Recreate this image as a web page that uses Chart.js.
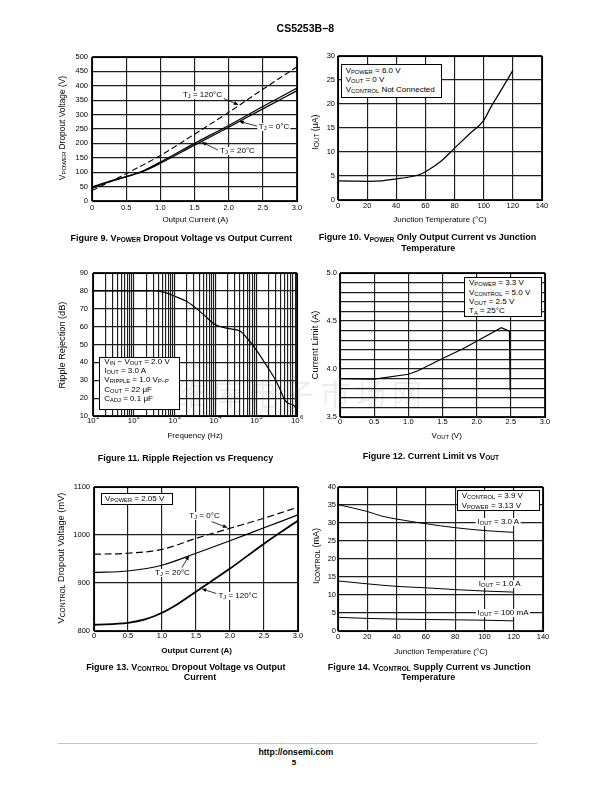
<!DOCTYPE html>
<html><head><meta charset="utf-8"><title>CS5253B-8</title>
<script src="https://cdn.jsdelivr.net/npm/chart.js@4.4.1/dist/chart.umd.min.js"></script>
<style>
html,body{margin:0;padding:0;background:#fff}
#page{position:relative;width:612px;height:792px;overflow:hidden;font-family:'Liberation Sans',Arial,Helvetica,sans-serif;color:#000}
.cw{position:absolute}
.cw canvas{display:block}
.t{position:absolute;white-space:nowrap;line-height:1;transform:translate(-50%,-50%)}
.yt{transform:translate(-50%,-50%) rotate(-90deg)}
.b{font-weight:bold}
.s{font-size:72%;position:relative;top:0.2em}
.lab{background:#fff;padding:0 1.5px}
.box{position:absolute;border:1px solid #000;background:#fff;box-sizing:border-box}
.box .ln{position:absolute;white-space:nowrap;line-height:1;transform:translateY(-50%);font-size:8px}
.wm{position:absolute;white-space:nowrap;font-family:'Noto Sans CJK SC',sans-serif;font-size:30px;letter-spacing:6px;color:rgba(0,0,0,0.07);line-height:1}
.rule{position:absolute;background:#c4c4c4}
</style></head><body><div id="page"></div>
<script>
// ================= DATA =================
// Figure 9 - VPOWER dropout voltage vs output current
const f9XTicks = ['0','0.5','1.0','1.5','2.0','2.5','3.0'];
const f9YTicks = ['0','50','100','150','200','250','300','350','400','450','500'];
const f9X120 = [0, 0.5, 1.0, 1.5, 2.0, 2.5, 3.0];
const f9Y120 = [36, 95, 158, 232, 308, 388, 466];
const f9XSolid = [0, 0.25, 0.5, 0.75, 1.0, 1.5, 2.0, 2.5, 3.0];
const f9Y0 = [48, 68, 85, 105, 135, 200, 262, 328, 392];
const f9Y20 = [44, 66, 84, 103, 131, 194, 256, 320, 383];

// Figure 10 - VPOWER only output current vs junction temperature
const f10XTicks = ['0','20','40','60','80','100','120','140'];
const f10YTicks = ['0','5','10','15','20','25','30'];
const f10X = [0, 10, 20, 30, 40, 50, 55, 60, 70, 80, 90, 100, 105, 110, 120];
const f10Y = [4.0, 3.95, 3.9, 4.0, 4.4, 4.85, 5.2, 5.9, 7.9, 10.8, 13.7, 16.6, 19.4, 21.9, 27.0];

// Figure 11 - Ripple rejection vs frequency
const f11XTickExp = ['1','2','3','4','5','6'];
const f11YTicks = ['10','20','30','40','50','60','70','80','90'];
const f11X = [10, 100, 350, 600, 1000, 2000, 5000, 10000, 20000, 40000, 60000, 100000, 200000, 300000, 400000, 500000, 600000, 800000, 900000, 1000000];
const f11Y = [80, 80, 80, 79, 77, 74, 67, 61, 59, 57.5, 53.5, 47, 36.5, 30, 24, 19, 17.2, 16.2, 15, 12];

// Figure 12 - Current limit vs VOUT
const f12XTicks = ['0','0.5','1.0','1.5','2.0','2.5','3.0'];
const f12YTicks = ['3.5','4.0','4.5','5.0'];
const f12X = [0, 0.5, 1.0, 1.15, 1.5, 1.8, 2.0, 2.36, 2.46, 2.48, 2.49];
const f12Y = [3.9, 3.895, 3.945, 3.985, 4.11, 4.21, 4.29, 4.43, 4.40, 4.39, 3.78];

// Figure 13 - VCONTROL dropout voltage vs output current
const f13XTicks = ['0','0.5','1.0','1.5','2.0','2.5','3.0'];
const f13YTicks = ['800','900','1000','1100'];
const f13X = [0, 0.5, 1.0, 1.5, 2.0, 2.5, 3.0];
const f13Y0 = [960, 962, 970, 993, 1014, 1035, 1058];
const f13Y20 = [922, 925, 937, 962, 988, 1015, 1042];
const f13X120 = [0, 0.5, 0.75, 1.0, 1.25, 1.5, 2.0, 2.5, 3.0];
const f13Y120 = [813, 817, 824, 838, 858, 882, 930, 982, 1030];

// Figure 14 - VCONTROL supply current vs junction temperature
const f14XTicks = ['0','20','40','60','80','100','120','140'];
const f14YTicks = ['0','5','10','15','20','25','30','35','40'];
const f14X3A = [0, 20, 30, 40, 60, 80, 100, 120];
const f14Y3A = [35.1, 33.2, 31.9, 31.1, 29.8, 28.7, 27.9, 27.4];
const f14X = [0, 20, 40, 60, 80, 100, 120];
const f14Y1A = [13.9, 13.1, 12.4, 12.0, 11.5, 11.1, 10.8];
const f14Y100 = [3.8, 3.5, 3.3, 3.2, 3.1, 3.0, 2.8];

// ================= RENDERING =================
const FONT = "'Liberation Sans', Arial, Helvetica, sans-serif";
const GRID = '#1e1e1e';
const page = document.getElementById('page');
Chart.defaults.font.family = FONT;

function steps(min, max, step) {
  const n = Math.round((max - min) / step), a = [];
  for (let i = 0; i <= n; i++) a.push(+(min + i * step).toFixed(6));
  return a;
}
function logGrid(e0, e1) {
  const a = [];
  for (let e = e0; e < e1; e++) for (let m = 1; m <= 9; m++) a.push(m * Math.pow(10, e));
  a.push(Math.pow(10, e1));
  return a;
}
function labelFor(spec, v) {
  if (!spec.labels) return '';
  const i = spec.labels.findIndex(l => Math.abs(parseFloat(l) - v) < 1e-6);
  return i >= 0 ? spec.labels[i] : '';
}
function series(xs, ys, style) {
  return Object.assign({
    data: xs.map((x, i) => ({x: x, y: ys[i]})),
    showLine: true, borderColor: '#000', borderWidth: 1.2, pointRadius: 0, fill: false,
    cubicInterpolationMode: 'monotone', tension: 0.4
  }, style || {});
}
const framePlugin = {
  id: 'frame',
  afterDraw(ch) {
    const a = ch.chartArea, c = ch.ctx;
    c.save(); c.strokeStyle = '#000'; c.lineWidth = 1.1;
    c.strokeRect(a.left + 0.5, a.top + 0.5, a.right - a.left, a.bottom - a.top);
    c.restore();
  }
};
function arrowPlugin(list) {
  return {
    id: 'arrows',
    afterDatasetsDraw(ch) {
      const c = ch.ctx, sx = ch.scales.x, sy = ch.scales.y;
      c.save(); c.strokeStyle = '#000'; c.fillStyle = '#000'; c.lineWidth = 0.8;
      for (const a of list) {
        const x0 = sx.getPixelForValue(a.from[0]), y0 = sy.getPixelForValue(a.from[1]);
        const x1 = sx.getPixelForValue(a.to[0]), y1 = sy.getPixelForValue(a.to[1]);
        const ang = Math.atan2(y1 - y0, x1 - x0), hl = 5, hw = 1.9;
        const bx = x1 - hl * Math.cos(ang), by = y1 - hl * Math.sin(ang);
        c.beginPath(); c.moveTo(x0, y0); c.lineTo(bx, by); c.stroke();
        c.beginPath(); c.moveTo(x1, y1);
        c.lineTo(bx + hw * Math.sin(ang), by - hw * Math.cos(ang));
        c.lineTo(bx - hw * Math.sin(ang), by + hw * Math.cos(ang));
        c.closePath(); c.fill();
      }
      c.restore();
    }
  };
}
const P = {l: 46, t: 10, r: 16, b: 26};
function makeChart(cfg) {
  const L = Math.round(cfg.plot[0]), T = Math.round(cfg.plot[1]);
  const R = Math.round(cfg.plot[2]), B = Math.round(cfg.plot[3]);
  const w = R - L + P.l + P.r, h = B - T + P.t + P.b;
  const wrap = document.createElement('div');
  wrap.className = 'cw';
  wrap.style.left = (L - P.l) + 'px'; wrap.style.top = (T - P.t) + 'px';
  wrap.style.width = w + 'px'; wrap.style.height = h + 'px';
  const cv = document.createElement('canvas');
  cv.width = w; cv.height = h; cv.style.width = w + 'px'; cv.style.height = h + 'px';
  wrap.appendChild(cv); page.appendChild(wrap);
  const ax = (spec, pos, pad) => ({
    type: spec.log ? 'logarithmic' : 'linear',
    position: pos, min: spec.min, max: spec.max,
    afterBuildTicks: s => { s.ticks = spec.grid.map(v => ({value: v})); },
    afterFit: s => { if (pos === 'bottom') s.height = P.b; else s.width = P.l; },
    grid: {color: GRID, lineWidth: 1.15, drawTicks: false},
    border: {display: false},
    ticks: {autoSkip: false, maxRotation: 0, minRotation: 0, padding: pad, color: '#000',
      font: {family: FONT, size: 7.5}, callback: v => labelFor(spec, v)}
  });
  const plugins = [framePlugin];
  if (cfg.arrows) plugins.push(arrowPlugin(cfg.arrows));
  if (cfg.extra) plugins.push(cfg.extra);
  return new Chart(cv, {
    type: 'scatter',
    data: {datasets: cfg.datasets},
    options: {
      responsive: false, animation: false, events: [],
      layout: {padding: {left: 0, top: P.t, right: P.r, bottom: 0}},
      plugins: {legend: {display: false}, tooltip: {enabled: false}},
      scales: {x: ax(cfg.x, 'bottom', cfg.xPad), y: ax(cfg.y, 'left', cfg.yPad)}
    },
    plugins: plugins
  });
}

// ---- Figure 9
makeChart({
  plot: [92.3, 57.3, 297.3, 200.7],
  x: {min: 0, max: 3, grid: steps(0, 3, 0.5), labels: f9XTicks},
  y: {min: 0, max: 500, grid: steps(0, 500, 50), labels: f9YTicks},
  xPad: 2.5, yPad: 4,
  datasets: [
    series(f9X120, f9Y120, {borderDash: [6, 3], borderWidth: 1.1}),
    series(f9XSolid, f9Y0, {borderWidth: 1.3}),
    series(f9XSolid, f9Y20, {borderWidth: 1.3})
  ],
  arrows: [
    {from: [1.917, 357], to: [2.147, 333]},
    {from: [2.415, 260], to: [2.15, 277]},
    {from: [1.844, 177], to: [1.601, 205]}
  ]
});
// ---- Figure 10
makeChart({
  plot: [337.7, 55.7, 542, 199.7],
  x: {min: 0, max: 140, grid: steps(0, 140, 20), labels: f10XTicks},
  y: {min: 0, max: 30, grid: steps(0, 30, 5), labels: f10YTicks},
  xPad: 1.5, yPad: 3,
  datasets: [series(f10X, f10Y)]
});
// ---- Figure 11
makeChart({
  plot: [93.3, 273, 297.3, 416.3],
  x: {log: true, min: 10, max: 1e6, grid: logGrid(1, 6), labels: null},
  y: {min: 10, max: 90, grid: steps(10, 90, 10), labels: f11YTicks},
  xPad: 0, yPad: 5,
  datasets: [series(f11X, f11Y)],
  extra: {
    id: 'decadeLabels',
    afterDraw(ch) {
      const c = ch.ctx, sx = ch.scales.x, yb = ch.chartArea.bottom;
      c.save(); c.fillStyle = '#000'; c.textBaseline = 'alphabetic';
      f11XTickExp.forEach(e => {
        const px = sx.getPixelForValue(Math.pow(10, +e));
        c.font = '7.8px ' + FONT; const wb = c.measureText('10').width;
        c.font = '6px ' + FONT; const we = c.measureText(e).width;
        const x0 = px - (wb + we) / 2;
        c.font = '7.8px ' + FONT; c.textAlign = 'left'; c.fillText('10', x0, yb + 7);
        c.font = '6px ' + FONT; c.fillText(e, x0 + wb + 0.3, yb + 3);
      });
      c.restore();
    }
  }
});
// ---- Figure 12
makeChart({
  plot: [340, 272.7, 545, 417],
  x: {min: 0, max: 3, grid: steps(0, 3, 0.5), labels: f12XTicks},
  y: {min: 3.5, max: 5, grid: steps(3.5, 5, 0.1), labels: f12YTicks},
  xPad: 0.5, yPad: 3,
  datasets: [series(f12X, f12Y, {cubicInterpolationMode: 'default', tension: 0})]
});
// ---- Figure 13
makeChart({
  plot: [94, 487, 298.3, 631.3],
  x: {min: 0, max: 3, grid: steps(0, 3, 0.5), labels: f13XTicks},
  y: {min: 800, max: 1100, grid: steps(800, 1100, 100), labels: f13YTicks},
  xPad: 0.5, yPad: 4,
  datasets: [
    series(f13X, f13Y0, {borderDash: [7, 3.5], borderWidth: 1.2}),
    series(f13X, f13Y20, {borderWidth: 1.2}),
    series(f13X120, f13Y120, {borderWidth: 1.8})
  ],
  arrows: [
    {from: [1.728, 1028], to: [1.968, 1015]},
    {from: [1.293, 932], to: [1.40, 958]},
    {from: [1.80, 878], to: [1.58, 888]}
  ]
});
// ---- Figure 14
makeChart({
  plot: [337.7, 487, 542.7, 631.3],
  x: {min: 0, max: 140, grid: steps(0, 140, 20), labels: f14XTicks},
  y: {min: 0, max: 40, grid: steps(0, 40, 5), labels: f14YTicks},
  xPad: 1.5, yPad: 2,
  datasets: [
    series(f14X3A, f14Y3A, {borderWidth: 1}),
    series(f14X, f14Y1A, {borderWidth: 1}),
    series(f14X, f14Y100, {borderWidth: 1})
  ]
});

// ================= TEXT =================
const S = t => '<span class="s">' + t + '</span>';
function txt(x, y, html, size, cls) {
  const d = document.createElement('div');
  d.className = 't ' + (cls || '');
  d.style.left = x + 'px'; d.style.top = y + 'px'; d.style.fontSize = size + 'px';
  d.innerHTML = html; page.appendChild(d); return d;
}
function box(l, t, w, h, first, gap, padL, lines) {
  const d = document.createElement('div');
  d.className = 'box';
  d.style.left = l + 'px'; d.style.top = t + 'px'; d.style.width = w + 'px'; d.style.height = h + 'px';
  lines.forEach((ln, i) => {
    const e = document.createElement('div');
    e.className = 'ln'; e.style.left = padL + 'px'; e.style.top = (first - 1 + i * gap) + 'px';
    e.innerHTML = ln; d.appendChild(e);
  });
  page.appendChild(d);
}

txt(305.3, 28, 'CS5253B−8', 10.5, 'b');

// Figure 9 texts
txt(195.3, 220, 'Output Current (A)', 8);
txt(62.3, 128.3, 'V' + S('POWER') + ' Dropout Voltage (V)', 8.4, 'yt');
txt(181.3, 237.7, 'Figure 9. V' + S('POWER') + ' Dropout Voltage vs Output Current', 9, 'b');
txt(202.5, 95, 'T' + S('J') + ' = 120°C', 8, 'lab');
txt(274, 126.7, 'T' + S('J') + ' = 0°C', 8, 'lab');
txt(237.5, 151, 'T' + S('J') + ' = 20°C', 8, 'lab');

// Figure 10 texts
txt(440, 220, 'Junction Temperature (°C)', 8);
txt(315, 132.3, 'I' + S('OUT') + ' (μA)', 8.8, 'yt');
txt(427.5, 237.3, 'Figure 10. V' + S('POWER') + ' Only Output Current vs Junction', 9, 'b');
txt(428.3, 248.3, 'Temperature', 9, 'b');
box(341, 64.3, 101.3, 34, 6.4, 9.6, 3.7, [
  'V' + S('POWER') + ' = 6.0 V', 'V' + S('OUT') + ' = 0 V', 'V' + S('CONTROL') + ' Not Connected']);

// Figure 11 texts
txt(195, 435.7, 'Frequency (Hz)', 8);
txt(63.3, 345.3, 'Ripple Rejection (dB)', 9.2, 'yt');
txt(185.5, 458.3, 'Figure 11. Ripple Rejection vs Frequency', 9, 'b');
box(99.3, 357, 80.7, 52.7, 4.6, 9.35, 4, [
  'V' + S('IN') + ' − V' + S('OUT') + ' = 2.0 V', 'I' + S('OUT') + ' = 3.0 A',
  'V' + S('RIPPLE') + ' = 1.0 V' + S('P−P'), 'C' + S('OUT') + ' = 22 μF', 'C' + S('ADJ') + ' = 0.1 μF']);

// Figure 12 texts
txt(446.7, 436.3, 'V' + S('OUT') + ' (V)', 8);
txt(315, 345.3, 'Current Limit (A)', 9.4, 'yt');
txt(430.8, 455.7, 'Figure 12. Current Limit vs V' + S('OUT'), 9, 'b');
box(464.3, 277, 78, 40, 6.2, 9.4, 3.7, [
  'V' + S('POWER') + ' = 3.3 V', 'V' + S('CONTROL') + ' = 5.0 V', 'V' + S('OUT') + ' = 2.5 V', 'T' + S('A') + ' = 25°C']);

// Figure 13 texts
txt(196.7, 651.3, 'Output Current (A)', 8, 'b');
txt(62.3, 558, 'V' + S('CONTROL') + ' Dropout Voltage (mV)', 9.3, 'yt');
txt(185.8, 666.5, 'Figure 13. V' + S('CONTROL') + ' Dropout Voltage vs Output', 9, 'b');
txt(200, 676.5, 'Current', 9, 'b');
box(100.7, 493, 72.6, 11.7, 5.7, 0, 3.3, ['V' + S('POWER') + ' = 2.05 V']);
txt(204.5, 516.3, 'T' + S('J') + ' = 0°C', 8, 'lab');
txt(172.5, 573, 'T' + S('J') + ' = 20°C', 8, 'lab');
txt(238, 595.7, 'T' + S('J') + ' = 120°C', 8, 'lab');

// Figure 14 texts
txt(441, 652, 'Junction Temperature (°C)', 8);
txt(316, 556.3, 'I' + S('CONTROL') + ' (mA)', 9, 'yt');
txt(429.2, 666.5, 'Figure 14. V' + S('CONTROL') + ' Supply Current vs Junction', 9, 'b');
txt(428.3, 676.5, 'Temperature', 9, 'b');
box(457.3, 490.3, 83, 21, 6, 9.4, 3.4, ['V' + S('CONTROL') + ' = 3.9 V', 'V' + S('POWER') + ' = 3.13 V']);
txt(498.3, 522.3, 'I' + S('OUT') + ' = 3.0 A', 8, 'lab');
txt(499.7, 584, 'I' + S('OUT') + ' = 1.0 A', 8, 'lab');
txt(503, 613, 'I' + S('OUT') + ' = 100 mA', 8, 'lab');

// Footer
const rule = document.createElement('div');
rule.className = 'rule';
rule.style.left = '58px'; rule.style.top = '742.5px'; rule.style.width = '479px'; rule.style.height = '1.5px';
page.appendChild(rule);
txt(295.8, 752, 'http://onsemi.com', 8.7, 'b');
txt(294, 762.7, '5', 8, 'b');

// Watermark
const wm = document.createElement('div');
wm.className = 'wm'; wm.style.left = '176px'; wm.style.top = '377px';
wm.textContent = '维库电子市场网';
page.appendChild(wm);
</script></body></html>
